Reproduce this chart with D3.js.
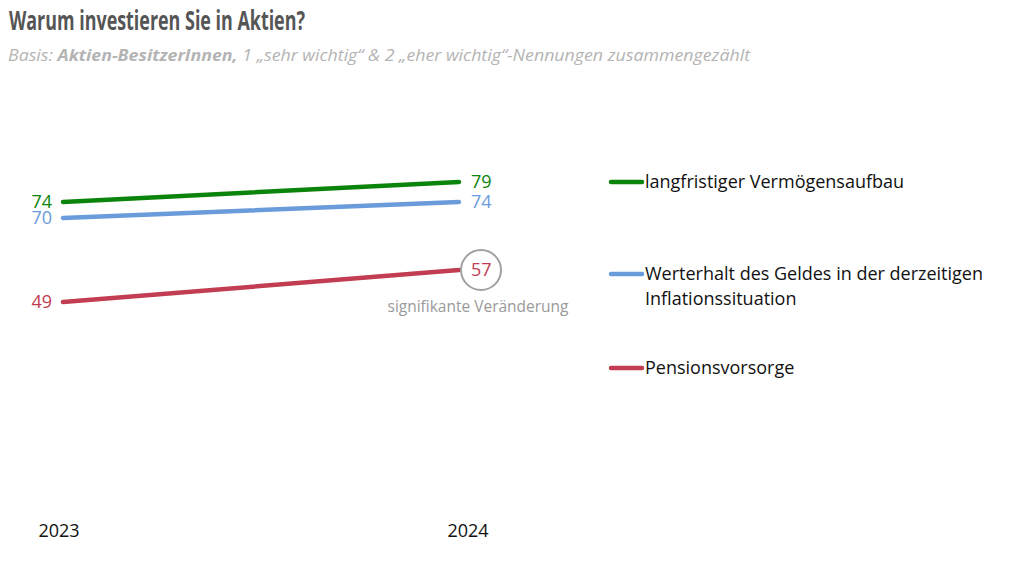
<!DOCTYPE html>
<html lang="de">
<head>
<meta charset="UTF-8">
<title>Warum investieren Sie in Aktien?</title>
<style>
  body, html { margin: 0; background: #fff; overflow: hidden; }
  text { font-family: "Open Sans", "Noto Sans", sans-serif; }
</style>
</head>
<body>
<script src="https://d3js.org/d3.v7.min.js"></script>
<script>
// data
const years = ["2023", "2024"];
const seriesNames = ["langfristiger Vermögensaufbau", "Werterhalt des Geldes in der derzeitigen Inflationssituation", "Pensionsvorsorge"];
const legendLines = [["langfristiger Vermögensaufbau"], ["Werterhalt des Geldes in der derzeitigen", "Inflationssituation"], ["Pensionsvorsorge"]];
const values2023 = [74, 70, 49];
const values2024 = [79, 74, 57];
const significant = [false, false, true];
const colors = ["#0b840b", "#6a9bdb", "#c33d52"];

const width = 1023, height = 562;

const svg = d3.select("body").append("svg")
    .attr("width", width)
    .attr("height", height);

// title + subtitle (glyphs squeezed to mimic the narrow original font)
svg.append("text")
    .attr("x", 9).attr("y", 30)
    .attr("font-size", 26.5).attr("font-weight", "bold")
    .attr("fill", "#555")
    .attr("textLength", 296)
    .attr("lengthAdjust", "spacingAndGlyphs")
    .text("Warum investieren Sie in Aktien?");

const sub = svg.append("text")
    .attr("x", 8).attr("y", 61)
    .attr("font-size", 16).attr("font-style", "italic")
    .attr("fill", "#b4b4b4")
    .attr("textLength", 742)
    .attr("lengthAdjust", "spacingAndGlyphs");
sub.append("tspan").text("Basis: ");
sub.append("tspan").attr("font-weight", "bold").text("Aktien-BesitzerInnen,");
sub.append("tspan").text(" 1 „sehr wichtig“ & 2 „eher wichtig“-Nennungen zusammengezählt");

// scales
const x = d3.scalePoint().domain(years).range([63, 459]);
const y = d3.scaleLinear().domain([0, 100]).range([498, 98]);

const data = seriesNames.map((name, i) => ({
  name, color: colors[i], sig: significant[i],
  points: [{year: years[0], v: values2023[i]}, {year: years[1], v: values2024[i]}]
}));

const line = d3.line().x(d => x(d.year)).y(d => y(d.v));

svg.selectAll(".series")
  .data(data)
  .enter().append("path")
    .attr("d", d => line(d.points))
    .attr("fill", "none")
    .attr("stroke", d => d.color)
    .attr("stroke-width", 4.5)
    .attr("stroke-linecap", "round");

// left labels
svg.selectAll(".lab-left")
  .data(data)
  .enter().append("text")
    .attr("x", x(years[0]) - 11)
    .attr("y", d => y(d.points[0].v) + 6)
    .attr("text-anchor", "end")
    .attr("font-size", 18)
    .attr("fill", d => d.color)
    .text(d => d.points[0].v);

// right labels
svg.selectAll(".lab-right")
  .data(data)
  .enter().append("text")
    .attr("x", x(years[1]) + 12)
    .attr("y", d => y(d.points[1].v) + 6)
    .attr("font-size", 18)
    .attr("fill", d => d.color)
    .text(d => d.points[1].v);

// significance marker
data.filter(d => d.sig).forEach(d => {
  const cx = x(years[1]) + 22, cy = y(d.points[1].v);
  svg.append("circle")
    .attr("cx", cx).attr("cy", cy).attr("r", 20)
    .attr("fill", "none")
    .attr("stroke", "#a0a0a0")
    .attr("stroke-width", 2);
  svg.append("text")
    .attr("x", cx - 3).attr("y", cy + 42)
    .attr("text-anchor", "middle")
    .attr("font-size", 15.5)
    .attr("fill", "#9a9a9a")
    .attr("textLength", 181)
    .attr("lengthAdjust", "spacingAndGlyphs")
    .text("signifikante Veränderung");
});

// year labels
svg.append("text")
  .attr("x", x(years[0]) - 4).attr("y", 537)
  .attr("text-anchor", "middle").attr("font-size", 18).attr("fill", "#111")
  .text(years[0]);
svg.append("text")
  .attr("x", x(years[1]) + 9).attr("y", 537)
  .attr("text-anchor", "middle").attr("font-size", 18).attr("fill", "#111")
  .text(years[1]);

// legend
const legendY = [182, 274, 368];
const lg = svg.selectAll(".legend")
  .data(data)
  .enter().append("g")
    .attr("transform", (d, i) => `translate(611,${legendY[i]})`);
lg.append("line")
  .attr("x1", 0).attr("x2", 31)
  .attr("stroke", d => d.color)
  .attr("stroke-width", 4.5)
  .attr("stroke-linecap", "round");
lg.each(function(d, i) {
  const t = d3.select(this).append("text")
    .attr("x", 34).attr("y", 6)
    .attr("font-size", 18).attr("fill", "#111");
  legendLines[i].forEach((l, j) => {
    t.append("tspan").attr("x", 34).attr("dy", j === 0 ? 0 : 25).text(l);
  });
});
</script>
</body>
</html>
